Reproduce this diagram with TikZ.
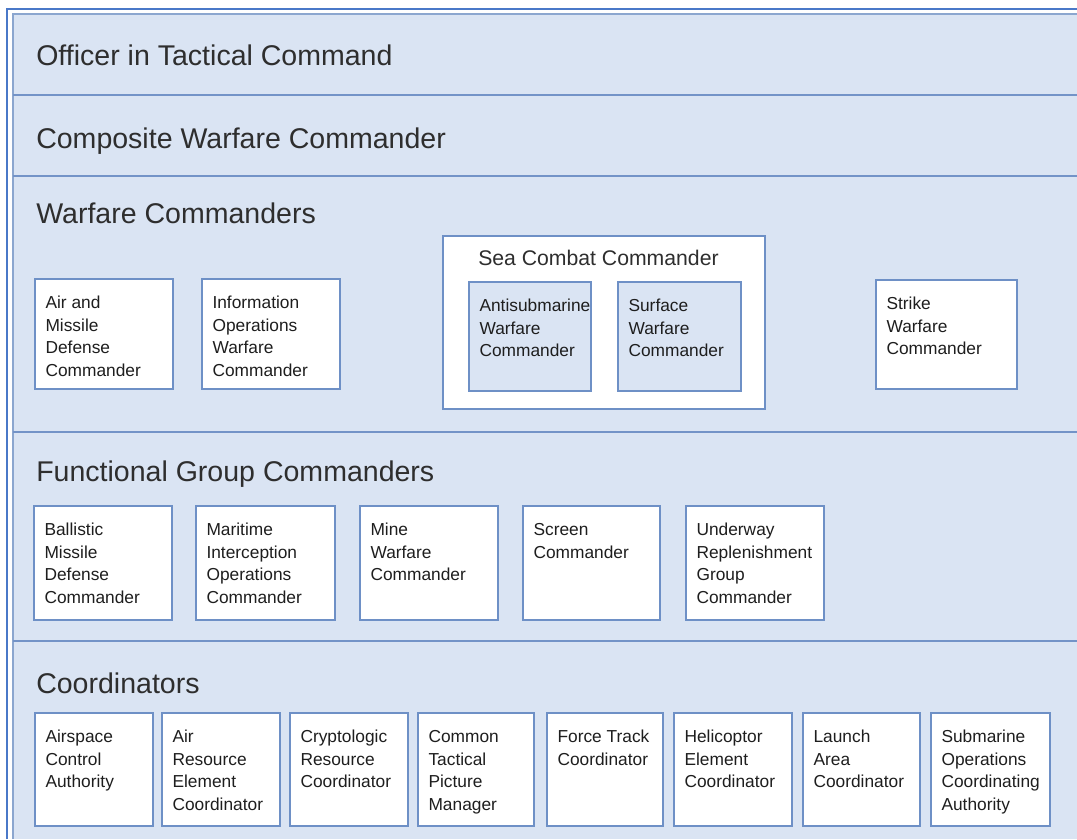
\documentclass[tikz,border=0pt]{standalone}
\usepackage{fontspec}
\setmainfont{Liberation Sans}
\usetikzlibrary{fit}

\definecolor{panelfill}{HTML}{DAE4F3}
\definecolor{bandline}{HTML}{7393C7}
\definecolor{frameouter}{HTML}{4A78C8}
\definecolor{frameinner}{HTML}{8BA6CF}
\definecolor{boxline}{HTML}{6E90C6}
\definecolor{titleink}{HTML}{2E2E2E}
\definecolor{boxink}{HTML}{1E1E1E}

% box with its label: name, style, left, top, right, bottom, text
\newcommand\rolebox[7]{%
  \node[#2, fit={(#3,#4) (#5,#6)}] (#1) {};
  \node[boxtext] (#1-t) at ([xshift=8.25pt,yshift=-10.7pt]#1.north west) {\strut #7};
}

\begin{document}
\begin{tikzpicture}[x=0.75pt, y=-0.75pt,
  bandtitle/.style={anchor=base west, inner sep=0, text=titleink,
    font=\fontsize{21.4pt}{25pt}\selectfont},
  subtitle/.style={anchor=base west, inner sep=0, text=titleink,
    font=\fontsize{15.9pt}{19pt}\selectfont},
  rolebox/.style={draw=boxline, line width=1.1pt, fill=white, inner sep=0},
  innerbox/.style={rolebox, fill=panelfill},
  boxtext/.style={anchor=north west, inner sep=0, align=left, text=boxink,
    font=\fontsize{13pt}{16.9pt}\selectfont},
  band/.style={draw=bandline, line width=1.5pt}]

\useasboundingbox (0,0) rectangle (1077,839);
\fill[white] (0,0) rectangle (1077,839);

% panel and frame
\fill[panelfill] (13,14) rectangle (1077,839);
\draw[frameinner, line width=1.2pt] (13,839) -- (13,14) -- (1077,14);
\draw[frameouter, line width=1.6pt] (7,839) -- (7,9) -- (1077,9);

% band separators
\foreach \y in {95,176,432,641} \draw[band] (13,\y) -- (1077,\y);

% band titles
\node[bandtitle] (otc) at (36,65) {Officer in Tactical Command};
\node[bandtitle] (cwc) at (36,148) {Composite Warfare Commander};
\node[bandtitle] (wc)  at (36,223) {Warfare Commanders};
\node[bandtitle] (fgc) at (36,481) {Functional Group Commanders};
\node[bandtitle] (crd) at (36,693) {Coordinators};

% warfare commanders
\rolebox{amdc}{rolebox}{35}{279}{173}{389}{Air and\\Missile\\Defense\\Commander}
\rolebox{iowc}{rolebox}{202}{279}{340}{389}{Information\\Operations\\Warfare\\Commander}
\node[rolebox, fit={(443,236) (765,409)}] (scc) {};
\node[subtitle] (scc-t) at (478,265) {Sea Combat Commander};
\rolebox{asw}{innerbox}{469}{282}{591}{391}{Antisubmarine\\Warfare\\Commander}
\rolebox{suw}{innerbox}{618}{282}{741}{391}{Surface\\Warfare\\Commander}
\rolebox{stw}{rolebox}{876}{280}{1017}{389}{Strike\\Warfare\\Commander}

% functional group commanders
\rolebox{bmd}{rolebox}{34}{506}{172}{620}{Ballistic\\Missile\\Defense\\Commander}
\rolebox{mio}{rolebox}{196}{506}{335}{620}{Maritime\\Interception\\Operations\\Commander}
\rolebox{miw}{rolebox}{360}{506}{498}{620}{Mine\\Warfare\\Commander}
\rolebox{scr}{rolebox}{523}{506}{660}{620}{Screen\\Commander}
\rolebox{urg}{rolebox}{686}{506}{824}{620}{Underway\\Replenishment\\Group\\Commander}

% coordinators
\rolebox{aca}{rolebox}{35}{713}{153}{826}{Airspace\\Control\\Authority}
\rolebox{arec}{rolebox}{162}{713}{280}{826}{Air\\Resource\\Element\\Coordinator}
\rolebox{crc}{rolebox}{290}{713}{408}{826}{Cryptologic\\Resource\\Coordinator}
\rolebox{ctpm}{rolebox}{418}{713}{534}{826}{Common\\Tactical\\Picture\\Manager}
\rolebox{ftc}{rolebox}{547}{713}{663}{826}{Force Track\\Coordinator}
\rolebox{hec}{rolebox}{674}{713}{792}{826}{Helicoptor\\Element\\Coordinator}
\rolebox{lac}{rolebox}{803}{713}{920}{826}{Launch\\Area\\Coordinator}
\rolebox{soca}{rolebox}{931}{713}{1050}{826}{Submarine\\Operations\\Coordinating\\Authority}

\end{tikzpicture}
\end{document}
